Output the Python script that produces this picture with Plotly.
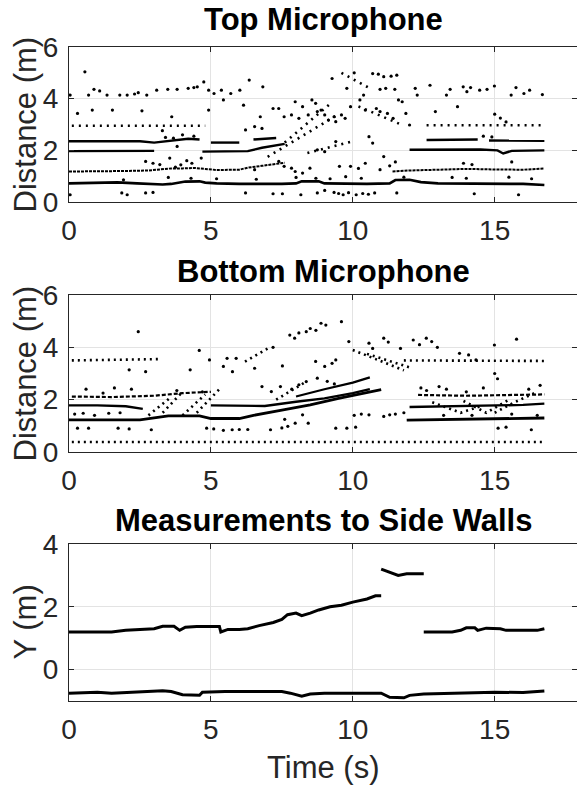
import plotly.graph_objects as go

# ---------------- data ----------------
# Top microphone: dense echo tracks (time s, distance m); None separates segments
TOP_A_T = [0, 1.5, 1.7, 2.4, 3.3, 3.6, 3.9, 4.1, 4.6, 4.8, 5.2, 6.0, 7.5, 8.0, 8.2, 8.8, 9.0, 10.5, 11.3, 11.5, 12.0, 12.4, 13.0, 15.0, 16.0, 16.75]
TOP_A_D = [0.72, 0.73, 0.76, 0.72, 0.68, 0.70, 0.74, 0.79, 0.80, 0.75, 0.72, 0.70, 0.70, 0.72, 0.80, 0.80, 0.72, 0.70, 0.72, 0.85, 0.86, 0.77, 0.72, 0.72, 0.70, 0.66]
TOP_B_T = [0, 1.0, 2.0, 2.8, 3.2, 3.6, 4.0, 4.4, 4.8, 5.2, 6.0, 6.3, 6.8, 7.2, 7.6, None, 11.4, 12.0, 13.0, 14.0, 15.0, 16.0, 16.75]
TOP_B_D = [1.18, 1.18, 1.20, 1.22, 1.25, 1.30, 1.30, 1.32, 1.28, 1.24, 1.25, 1.33, 1.40, 1.45, 1.52, None, 1.18, 1.22, 1.25, 1.28, 1.26, 1.25, 1.30]
TOP_C_T = [0, 2.5, 3.0, None, 4.7, 5.5, 6.3, 6.8, 7.3, 7.6, None, 12.0, 13.0, 14.5, 15.1, 15.3, 15.6, 16.75]
TOP_C_D = [1.97, 1.97, 1.98, None, 1.95, 1.95, 1.97, 2.10, 2.20, 2.25, None, 2.02, 2.02, 2.03, 2.00, 1.88, 1.98, 2.00]
TOP_D_T = [0, 2.5, 3.0, 3.6, 4.2, 4.6, None, 5.0, 6.0, None, 6.5, 7.3, None, 12.6, 14.4, None, 14.8, 16.75]
TOP_D_D = [2.35, 2.35, 2.30, 2.38, 2.45, 2.42, None, 2.30, 2.30, None, 2.42, 2.48, None, 2.40, 2.42, None, 2.38, 2.37]
# sparse echo bands / diagonals (time, distance)
TOP_SPARSE_T = [0.1, 4.8, None, 12.6, 16.75, None, 7.0, 9.5, None, 7.6, 9.2, None, 8.4, 10.0, None, 9.6, 10.6, None, 10.2, 11.7]
TOP_SPARSE_D = [2.95, 2.95, None, 2.97, 2.97, None, 1.75, 3.40, None, 2.30, 3.80, None, 1.90, 2.35, None, 5.00, 4.40, None, 3.70, 3.00]
# isolated detections
TOP_PTS_T = [0.56, 0.04, 0.69, 0.88, 1.08, 1.34, 1.79, 2.05, 2.31, 2.44, 2.74, 3.09, 3.48, 3.81, 4.20, 4.40, 4.52, 4.75, 4.92, 5.11, 5.37, 5.44, 5.70, 6.02, 6.35, 6.83, 9.27,
             12.20, 12.27, 12.72, 13.30, 13.43, 13.89, 14.02, 14.15, 14.47, 14.73, 14.99, 15.58, 15.75, 16.03, 16.23, 16.68,
             10.05, 10.70, 10.90, 11.09, 11.35, 11.55, 10.96, 11.16, 9.79, 10.38, 11.48,
             0.30, 0.82, 1.53, 2.57, 3.62, 4.92, 6.15, 6.74, 7.39, 12.91, 13.69, 15.00, 15.20, 15.40,
             7.19, 7.58, 7.84, 7.97, 8.10, 8.23, 8.43, 8.56, 8.69, 8.75, 8.88, 9.01, 9.14, 9.34, 9.40, 9.60, 9.73, 9.92, 10.25, 10.44, 10.83, 10.96, 11.22, 11.42, 11.61, 11.74, 11.87, 12.00,
             7.39, 7.58, 7.84, 7.97, 8.23, 8.49, 8.75, 9.01, 9.40, 9.53, 9.92, 10.20, 10.44, 10.57, 10.70, 10.96, 11.09, 11.30, 11.50,
             0.04, 1.86, 2.05, 2.70, 2.96, 6.22, 7.19, 7.52, 8.17, 8.75, 9.01, 9.34, 9.50, 9.66, 9.85, 10.12, 10.35, 10.55, 10.77, 11.55, 14.28, 15.84,
             1.92, 3.50, 4.30, 5.20, 6.60, 8.00, 8.70, 9.20, 9.75, 10.30, 11.80, 13.50, 14.00, 15.50, 16.30,
             2.70, 2.96, 3.20, 3.55, 3.75, 3.94, 4.15, 4.33, 4.66, 6.54, 3.29, 3.68, 3.81, 6.22, 6.54, 6.80, 4.00, 4.40, 3.40, 14.60, 14.90, 13.90, 14.20, 15.60]
TOP_PTS_D = [5.04, 4.14, 4.14, 4.36, 4.30, 4.14, 4.14, 4.14, 4.18, 4.23, 4.14, 4.33, 4.36, 4.36, 4.40, 4.43, 4.46, 4.65, 4.33, 4.20, 4.33, 3.95, 4.20, 4.33, 4.72, 4.46, 4.78,
             4.40, 4.14, 4.52, 4.14, 4.36, 4.46, 4.27, 4.43, 4.33, 4.36, 4.49, 4.14, 4.43, 4.20, 4.33, 4.16,
             5.00, 4.97, 4.95, 4.85, 4.87, 4.91, 4.36, 4.40, 4.40, 4.14, 4.36,
             3.43, 3.56, 3.56, 3.53, 3.30, 3.56, 3.75, 3.30, 3.62, 3.50, 3.69, 3.40, 3.25, 3.10,
             3.62, 3.30, 3.37, 3.88, 3.24, 3.69, 3.37, 3.95, 3.82, 3.50, 3.56, 3.37, 3.17, 3.30, 3.11, 3.37, 3.24, 3.69, 3.95, 3.56, 3.62, 3.50, 3.43, 3.24, 3.95, 3.88, 3.43, 2.98,
             1.57, 1.38, 1.31, 1.18, 1.12, 1.31, 2.02, 1.95, 2.34, 1.38, 1.38, 1.30, 1.50, 2.53, 2.28, 1.25, 1.76, 1.40, 1.55,
             0.28, 0.35, 0.28, 0.35, 0.37, 0.35, 0.32, 0.32, 0.28, 0.35, 0.45, 0.37, 0.33, 0.28, 0.36, 0.28, 0.33, 0.30, 0.35, 0.35, 0.32, 0.28,
             0.86, 0.95, 0.92, 0.90, 0.88, 0.95, 0.92, 0.90, 0.98, 0.92, 0.96, 0.95, 0.92, 0.96, 0.90,
             1.57, 1.50, 1.45, 1.70, 1.35, 1.44, 1.60, 1.50, 1.70, 1.25, 2.76, 2.47, 2.15, 2.79, 2.92, 2.85, 2.60, 2.55, 2.50, 2.55, 2.52, 1.50, 1.45, 1.55]

# Bottom microphone
BOT_A_T = [0, 2.5, 3.0, 3.5, 4.6, 5.0, 6.0, 6.5, 7.5, 8.5, 9.5, 10.2, 11.0, None, 11.9, 13.5, 15.0, 16.75]
BOT_A_D = [1.23, 1.23, 1.30, 1.38, 1.38, 1.28, 1.28, 1.40, 1.60, 1.80, 2.05, 2.20, 2.38, None, 1.22, 1.25, 1.28, 1.30]
BOT_B_T = [0, 1.0, 2.0, 2.6, None, 5.0, 6.0, 6.9, 8.0, 9.0, 10.0, 10.6, None, 12.0, 13.5, 15.0, 16.0, 16.75]
BOT_B_D = [1.78, 1.78, 1.75, 1.65, None, 1.78, 1.78, 1.76, 1.92, 2.05, 2.25, 2.40, None, 1.72, 1.74, 1.78, 1.80, 1.85]
BOT_C_T = [8.0, 9.0, 10.0, 10.6]
BOT_C_D = [2.12, 2.40, 2.65, 2.85]
BOT_BAND_T = [0.1, 1.5, 3.0, 4.0, 5.0, None, 12.3, 14.0, 16.75]
BOT_BAND_D = [2.12, 2.10, 2.15, 2.25, 2.30, None, 2.18, 2.15, 2.20]
BOT_SPARSE_T = [0.1, 3.2, None, 11.8, 16.75, None, 0.1, 16.75, None, 10.0, 11.8, None, 10.5, 12.1,
                None, 2.8, 3.6, None, 3.3, 4.0, None, 4.0, 4.8, None, 4.5, 5.3, None, 12.8, 13.8, 14.5, None, 13.9, 14.7, 15.5, None, 15.0, 15.7, 16.5,
                None, 6.2, 7.0, None, 7.3, 8.3]
BOT_SPARSE_D = [3.50, 3.55, None, 3.50, 3.48, None, 0.38, 0.38, None, 3.90, 3.12, None, 3.75, 3.20,
                None, 1.40, 2.10, None, 1.50, 2.30, None, 1.40, 2.20, None, 1.50, 2.40, None, 1.90, 1.50, 1.75, None, 1.95, 1.50, 2.00, None, 1.50, 1.90, 2.30,
                None, 3.45, 3.95, None, 2.00, 2.65]
BOT_PTS_T = [2.44, 2.12, 2.70, 4.27, 4.59, 4.95, 5.44, 5.57, 5.76, 5.89, 6.54, 7.19, 7.52, 7.78, 7.95, 8.10, 8.36, 8.50, 8.70, 8.88, 9.05, 9.60, 8.69, 9.01, 9.27, 9.40,
             9.86, 10.57, 10.70, 11.09, 11.25, 11.68, 12.13, 12.35, 12.59, 12.78, 12.98, 13.76, 14.08, 14.34, 14.99, 15.77, 15.00, 15.10,
             0.30, 0.69, 1.73, 2.12, 2.90, 4.85, 5.10, 5.44, 5.75, 6.00, 6.30, 7.10, 7.50, 7.71, 7.97, 8.43, 7.60, 8.23, 9.40, 9.79, 10.10, 15.12, 15.40, 16.29,
             11.09, 11.30, 10.57, 10.05, 10.30, 13.04, 6.80, 7.13, 7.45, 7.85, 8.10, 8.36, 8.75, 9.10, 9.35, 1.60, 2.20, 3.80, 4.70, 11.50, 11.80, 12.60, 13.20, 14.20, 15.60, 16.50,
             0.20, 0.50, 0.90, 1.40, 1.80, 0.60, 1.20, 12.40, 13.30, 14.00, 14.60, 16.20, 16.60]
BOT_PTS_D = [4.60, 3.14, 3.07, 3.14, 3.88, 3.52, 3.27, 3.58, 3.07, 3.58, 3.20, 4.00, 3.29, 4.47, 4.35, 4.55, 4.60, 4.72, 4.65, 4.92, 4.85, 4.98, 3.46, 3.27, 3.39, 3.52,
             4.22, 4.16, 3.96, 4.35, 4.20, 3.96, 4.28, 4.10, 4.35, 4.22, 4.00, 3.77, 3.71, 3.52, 4.09, 4.31, 3.00, 2.80,
             0.91, 0.91, 0.91, 0.88, 0.85, 0.91, 0.88, 0.83, 0.85, 0.86, 0.86, 0.85, 0.92, 0.98, 1.10, 1.10, 1.25, 1.42, 0.91, 0.91, 0.95, 0.91, 0.95, 0.85,
             1.36, 1.42, 1.42, 1.40, 1.45, 2.50, 2.50, 2.31, 2.50, 2.40, 2.57, 2.69, 2.82, 2.70, 2.60, 2.45, 2.40, 2.35, 2.30, 1.45, 1.50, 2.35, 1.40, 1.40, 1.45, 1.40,
             1.45, 1.48, 1.40, 1.48, 1.50, 2.40, 2.25, 2.45, 2.40, 2.30, 2.45, 2.40, 2.55]

# Side wall estimates
WALL_UP_T = [0, 1.5, 2.0, 3.0, 3.3, 3.7, 3.9, 4.1, 4.5, 5.3, 5.35, 5.6, 6.0, 6.3, 6.7, 7.2, 7.5, 7.7, 8.0, 8.2, 8.5, 8.8, 9.2, 9.6, 10.0, 10.5, 10.8, 11.0,
             None, 11.0, 11.3, 11.6, 11.9, 12.5, None, 12.5, 13.5, 13.8, 14.0, 14.3, 14.4, 14.7, 15.2, 15.4, 16.5, 16.75]
WALL_UP_Y = [1.20, 1.20, 1.25, 1.30, 1.38, 1.38, 1.25, 1.35, 1.37, 1.37, 1.20, 1.28, 1.28, 1.30, 1.40, 1.50, 1.60, 1.75, 1.80, 1.72, 1.80, 1.90, 2.00, 2.05, 2.15, 2.25, 2.35, 2.35,
             None, 3.20, 3.10, 3.00, 3.05, 3.05, None, 1.20, 1.20, 1.25, 1.33, 1.33, 1.25, 1.32, 1.30, 1.25, 1.25, 1.30]
WALL_LO_T = [0, 1.0, 1.5, 2.5, 3.3, 3.6, 4.0, 4.6, 4.7, 5.5, 7.5, 7.8, 8.2, 8.5, 9.0, 11.0, 11.3, 11.8, 12.0, 12.5, 14.0, 15.0, 16.0, 16.75]
WALL_LO_Y = [-0.75, -0.72, -0.75, -0.70, -0.67, -0.70, -0.80, -0.82, -0.72, -0.70, -0.70, -0.75, -0.85, -0.78, -0.75, -0.75, -0.88, -0.90, -0.82, -0.78, -0.75, -0.72, -0.73, -0.68]

TITLES = ["Top Microphone", "Bottom Microphone", "Measurements to Side Walls"]
Y_TITLES = ["Distance (m)", "Distance (m)", "Y (m)"]
X_TITLE = "Time (s)"
X_TICKS = [0, 5, 10, 15]

# ---------------- figure ----------------
FONT = "Liberation Sans, Arial, sans-serif"
W, H = 577, 787
LEFT = 69
doms = [(47, 202), (295, 452), (544, 701)]

fig = go.Figure()

def ydom(top, bot):
    return [1 - bot / H, 1 - top / H]

def add_line(t, d, ax, width=2.6, dash="solid"):
    fig.add_trace(go.Scatter(x=t, y=d, mode="lines", xaxis="x" + ax, yaxis="y" + ax,
                             line=dict(color="black", width=width, dash=dash),
                             connectgaps=False, hoverinfo="skip", showlegend=False))

def add_pts(t, d, ax):
    fig.add_trace(go.Scatter(x=t, y=d, mode="markers", xaxis="x" + ax, yaxis="y" + ax,
                             marker=dict(color="black", size=3.2), hoverinfo="skip", showlegend=False))

add_line(TOP_A_T, TOP_A_D, "", 2.6)
add_line(TOP_B_T, TOP_B_D, "", 2.0, "3px,1px")
add_line(TOP_C_T, TOP_C_D, "", 2.4)
add_line(TOP_D_T, TOP_D_D, "", 2.4)
add_line(TOP_SPARSE_T, TOP_SPARSE_D, "", 2.6, "2px,5px")
add_pts(TOP_PTS_T, TOP_PTS_D, "")

add_line(BOT_A_T, BOT_A_D, "2", 2.8)
add_line(BOT_B_T, BOT_B_D, "2", 2.4)
add_line(BOT_C_T, BOT_C_D, "2", 2.2)
add_line(BOT_BAND_T, BOT_BAND_D, "2", 2.2, "4px,2px")
add_line(BOT_SPARSE_T, BOT_SPARSE_D, "2", 2.6, "2px,4px")
add_pts(BOT_PTS_T, BOT_PTS_D, "2")

add_line(WALL_UP_T, WALL_UP_Y, "3", 3.0)
add_line(WALL_LO_T, WALL_LO_Y, "3", 3.0)

axis_common = dict(showline=True, linecolor="#262626", linewidth=1, mirror="ticks",
                   ticks="inside", ticklen=5, tickcolor="#262626", automargin=False,
                   showgrid=True, gridcolor="#e3e3e3", gridwidth=1, zeroline=False,
                   tickfont=dict(family=FONT, size=28, color="#262626"))

layout = dict(width=W, height=H, margin=dict(l=0, r=0, t=0, b=0, autoexpand=False),
              paper_bgcolor="white", plot_bgcolor="white", showlegend=False)

yranges = [[0, 6], [0, 6], [-1, 4]]
yticks = [[0, 2, 4, 6], [0, 2, 4, 6], [0, 2, 4]]
for i, (top, bot) in enumerate(doms):
    sfx = "" if i == 0 else str(i + 1)
    layout["xaxis" + sfx] = dict(axis_common, domain=[LEFT / W, 1.0], range=[0, 17.9], tickvals=X_TICKS,
                                 ticklabelstandoff=3, anchor="y" + sfx)
    layout["yaxis" + sfx] = dict(axis_common, domain=ydom(top, bot), range=yranges[i], tickvals=yticks[i],
                                 ticklabelstandoff=4, anchor="x" + sfx)

fig.update_layout(**layout)

title_font = dict(family=FONT, size=31, color="#262626")
for i, (top, bot) in enumerate(doms):
    fig.add_annotation(text=Y_TITLES[i], x=25 / W, y=1 - (top + bot) / 2 / H, textangle=-90,
                       xref="paper", yref="paper", showarrow=False, xanchor="center", yanchor="middle",
                       font=title_font)
fig.add_annotation(text=X_TITLE, x=(LEFT + W) / 2 / W, y=1 - 767 / H,
                   xref="paper", yref="paper", showarrow=False, xanchor="center", yanchor="middle",
                   font=title_font)

title_y = [20, 271, 520]
for i, ty in enumerate(title_y):
    fig.add_annotation(text="<b>%s</b>" % TITLES[i], x=(LEFT + W) / 2 / W, y=1 - ty / H,
                       xref="paper", yref="paper", showarrow=False, xanchor="center", yanchor="middle",
                       font=dict(family=FONT, size=31, color="black"))

fig.write_html("out.html", config={"displayModeBar": False, "staticPlot": True},
               post_script="document.body.style.margin='0px';document.body.style.overflow='hidden';")
